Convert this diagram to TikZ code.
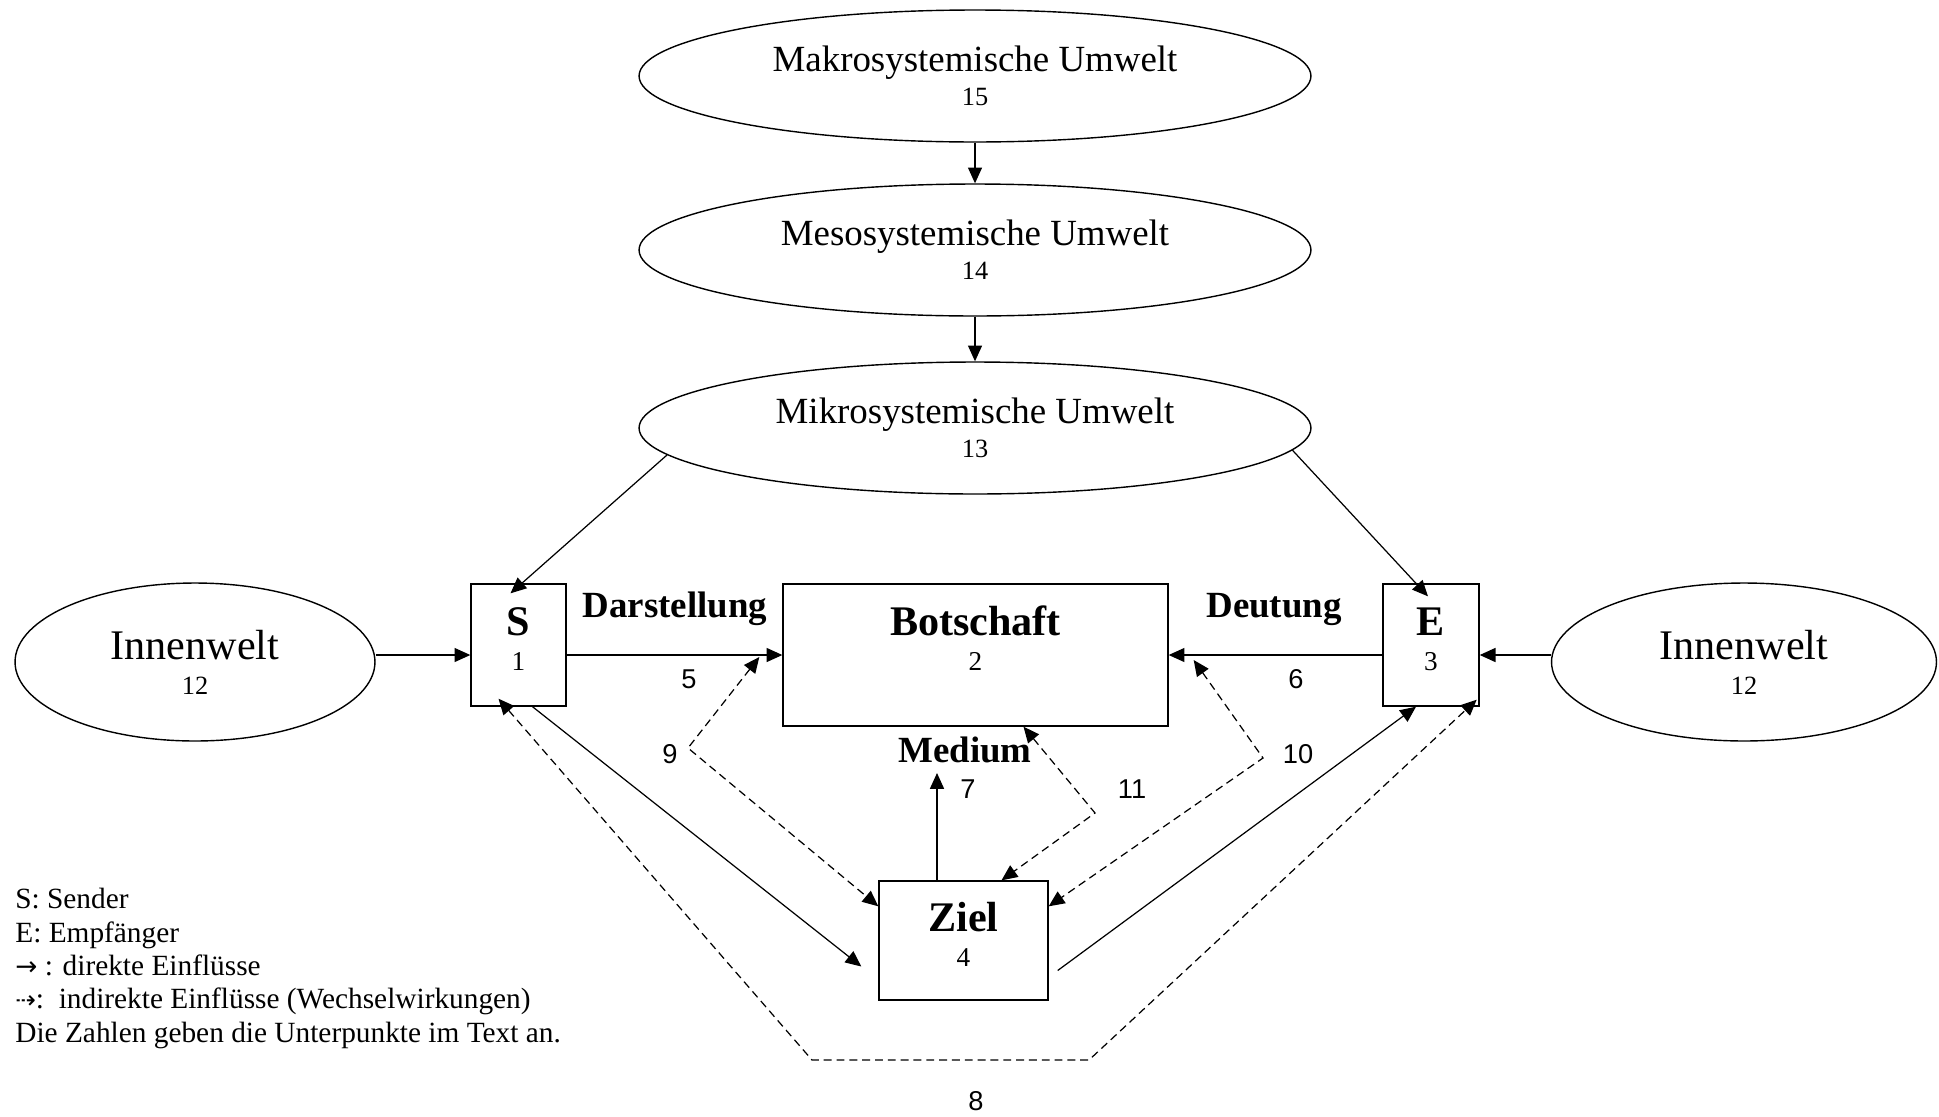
\documentclass[tikz,border=0pt]{standalone}
\usepackage{fontspec}
\setmainfont{Liberation Serif}
\newfontfamily\zahlfont{Liberation Sans}
\newfontfamily\symbfont{DejaVu Sans}
\usepackage{tikz}
\usetikzlibrary{shapes.geometric,arrows.meta,calc,positioning}

\begin{document}
\begin{tikzpicture}[x=0.02cm,y=-0.02cm,
            >={Triangle[length=9pt,width=8pt]},
            umwelt/.style={ellipse,draw,line width=0.8pt,inner sep=0pt,align=center,
                minimum width=13.44cm,minimum height=2.64cm,
                font=\fontsize{15}{19.4}\selectfont},
            innen/.style={ellipse,draw,line width=0.8pt,inner sep=0pt,align=center,
                minimum height=3.16cm,font=\fontsize{15}{20}\selectfont},
            kasten/.style={draw,line width=0.8pt,inner sep=0pt},
            kastentext/.style={align=center,inner sep=0pt,font=\fontsize{15.5}{20}\selectfont},
            titel/.style={font=\fontsize{21}{24}\selectfont\bfseries,inner sep=0pt,anchor=base},
            zahl/.style={font=\zahlfont\fontsize{15.5}{18}\selectfont,inner sep=0pt,anchor=base},
            pfeil/.style={->,line width=0.7pt},
            wechsel/.style={<->,line width=0.7pt,dash pattern=on 4.5pt off 2.8pt}]
            \useasboundingbox (0,0) rectangle (1939,1116);

            \node[umwelt] (makro) at (975,76) {{\fontsize{21}{19.4}\selectfont Makrosystemische Umwelt}\\15};
            \node[umwelt] (meso) at (975,250) {{\fontsize{21}{19.4}\selectfont Mesosystemische Umwelt}\\14};
            \node[umwelt] (mikro) at (975,428) {{\fontsize{21}{19.4}\selectfont Mikrosystemische Umwelt}\\13};
            \node[innen,minimum width=7.2cm] (ilinks) at (195,662) {{\fontsize{24}{20}\selectfont Innenwelt}\\12};
            \node[innen,minimum width=7.7cm] (irechts) at (1744,662) {{\fontsize{24}{20}\selectfont Innenwelt}\\12};

            \node[kasten,minimum width=1.9cm,minimum height=2.44cm] (S) at (518.5,645) {};
            \node[kasten,minimum width=1.92cm,minimum height=2.44cm] (E) at (1431,645) {};
            \node[kasten,minimum width=7.7cm,minimum height=2.84cm] (B) at (975.5,655) {};
            \node[kasten,minimum width=3.38cm,minimum height=2.38cm] (Z) at (963.5,940.5) {};
            \node[kastentext] (S-t) at (518.5,639) {{\fontsize{24}{20}\selectfont\bfseries S}\\1};
            \node[kastentext] (E-t) at (1431,639) {{\fontsize{24}{20}\selectfont\bfseries E}\\3};
            \node[kastentext] (B-t) at (975.5,638) {{\fontsize{24}{20}\selectfont\bfseries Botschaft}\\2};
            \node[kastentext] (Z-t) at (963.5,934) {{\fontsize{24}{20}\selectfont\bfseries Ziel}\\4};

            \node[titel] (darst) at (675,617) {Darstellung};
            \node[titel] (deut) at (1274,617) {Deutung};
            \node[titel] (medium) at (965,762) {Medium};

            \node[zahl] (n5) at (689,688) {5};
            \node[zahl] (n6) at (1296,688) {6};
            \node[zahl] (n7) at (968,798) {7};
            \node[zahl] (n8) at (976,1110) {8};
            \node[zahl] (n9) at (670,763) {9};
            \node[zahl] (n10) at (1298,763) {10};
            \node[zahl] (n11) at (1132,798) {11};

            \coordinate (m7) at (937,773);
            \coordinate (k9) at (688,748);
            \coordinate (k10) at (1263,758);
            \coordinate (k11) at (1095,813);
            \coordinate (k8a) at (812,1060);
            \coordinate (k8b) at (1089,1060);

            % direkte Einfluesse
            \draw[pfeil] (makro) -- (meso);
            \draw[pfeil] (meso) -- (mikro);
            \draw[pfeil] (mikro.185) -- ($(S.north)+(-8,10)$);
            \draw[pfeil] (mikro.356) -- ($(E.north)+(-3,13)$);
            \draw[pfeil] (ilinks.east |- B.west) -- (S.west |- B.west);
            \draw[pfeil] (irechts.west |- B.east) -- (E.east |- B.east);
            \draw[pfeil] (S.east |- B.west) -- (B.west);
            \draw[pfeil] (E.west |- B.east) -- (B.east);
            \draw[pfeil] ($(S.south)+(14,0)$) -- ($(Z.west)+(-17,26)$);
            \draw[pfeil] ($(Z.east)+(9,30)$) -- ($(E.south)+(-15,0)$);
            \draw[pfeil] (Z.north -| m7) -- (m7);

            % Wechselwirkungen
            \draw[wechsel] ($(B.west)+(-23,2)$) -- (k9) -- ($(Z.north west)+(0,26)$);
            \draw[wechsel] ($(B.east)+(25,5)$) -- (k10) -- ($(Z.north east)+(0,26)$);
            \draw[wechsel] ($(B.south)+(48,0)$) -- (k11) -- ($(Z.north)+(38,0)$);
            \draw[wechsel] ($(S.south)+(-20,-8)$) -- (k8a) -- (k8b) -- ($(E.south east)+(-3,-7)$);

            \node[anchor=north west,align=left,inner sep=0pt,font=\fontsize{16.7}{19}\selectfont] (legende) at (15,888)
                {S: Sender\\E: Empfänger\\{\symbfont\fontsize{15}{19}\selectfont →} : direkte Einflüsse\\{\symbfont\fontsize{14}{19}\selectfont ⇢}:\ \ indirekte Einflüsse (Wechselwirkungen)\\Die Zahlen geben die Unterpunkte im Text an.};

        \end{tikzpicture}
\end{document}
